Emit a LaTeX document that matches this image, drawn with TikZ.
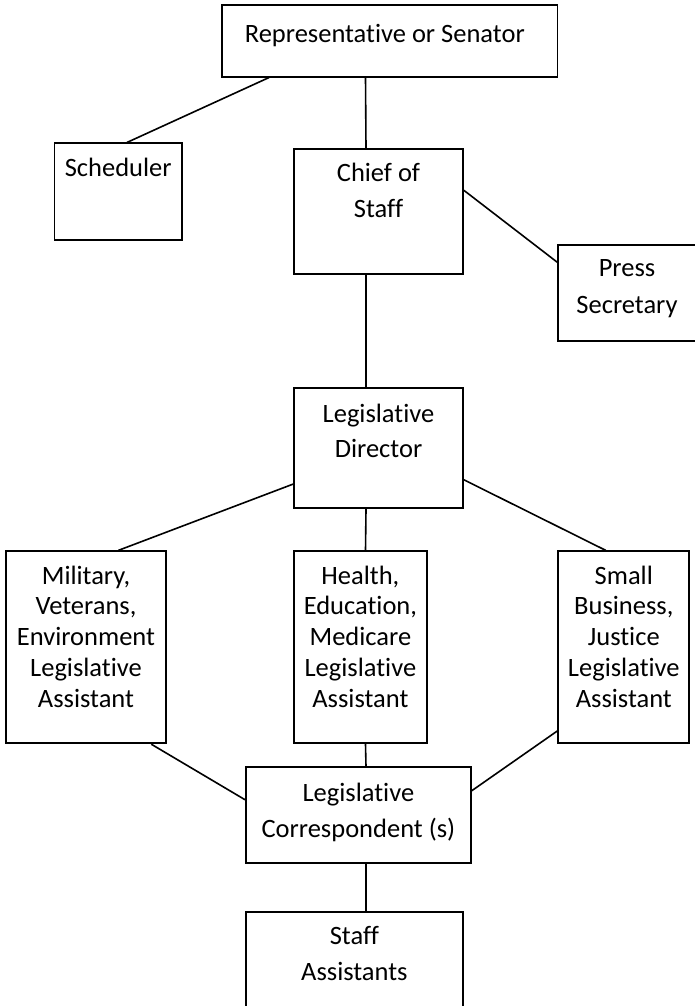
\documentclass[tikz,border=0pt]{standalone}
\usepackage{fontspec}
\setmainfont{Carlito}[Ligatures={NoCommon}]
\newcommand\bxt[5]{\parbox[c][#2][t]{#1}{\centering\fontsize{26.5pt}{#4}\selectfont\rule{0pt}{#3}#5\par}}
\begin{document}
\begin{tikzpicture}[x=1pt,y=-1pt,
  box/.style={draw, line width=1.8pt, inner sep=0pt},
  link/.style={line width=1.6pt}]
\useasboundingbox (0,0) rectangle (695,1006);
\node[box] (rep) at (389.8,40.8) {\bxt{335.5pt}{71.7pt}{38pt}{30pt}{Representative or Senator\hspace*{10pt}}};
\node[box] (sched) at (118.2,191.7) {\bxt{127.6pt}{96.7pt}{33.4pt}{30pt}{Scheduler}};
\node[box] (chief) at (378.5,211.4) {\bxt{169pt}{125.3pt}{33pt}{35.3pt}{Chief of\\Staff}};
\node[box] (press) at (627,292.8) {\bxt{137.4pt}{96.3pt}{32pt}{37pt}{Press\\Secretary}};
\node[box] (ld) at (378.5,448.3) {\bxt{169pt}{120pt}{34.4pt}{34.6pt}{Legislative\\Director}};
\node[box] (mil) at (86,647.3) {\bxt{160pt}{192pt}{32.7pt}{30.8pt}{Military,\\Veterans,\\Environment\\Legislative\\Assistant}};
\node[box] (health) at (360.4,647.3) {\bxt{132.7pt}{192pt}{32.7pt}{30.8pt}{Health,\\Education,\\Medicare\\Legislative\\Assistant}};
\node[box] (small) at (623.8,647.3) {\bxt{131pt}{192pt}{32.7pt}{30.8pt}{Small\\Business,\\Justice\\Legislative\\Assistant}};
\node[box] (lc) at (358.4,815.3) {\bxt{224.7pt}{96pt}{34.4pt}{35.6pt}{Legislative\\Correspondent (s)}};
\node[box] (staff) at (354.4,962) {\bxt{216.7pt}{100pt}{32pt}{36pt}{Staff\\Assistants}};
% connectors
\draw[link] ([xshift=-120.8pt]rep.south) -- ([xshift=8.8pt]sched.north);
\draw[link] ([xshift=-24.3pt]rep.south) -- ([xshift=-12.5pt]chief.north);
\draw[link] ([yshift=-42.5pt]chief.north east) -- ([yshift=-18.6pt]press.north west);
\draw[link] ([xshift=-12.5pt]chief.south) -- ([xshift=-12.5pt]ld.north);
\draw[link] ([yshift=-96.7pt]ld.north west) -- ([xshift=32.3pt]mil.north);
\draw[link] ([xshift=-12.5pt]ld.south) -- ([xshift=5.1pt]health.north);
\draw[link] ([yshift=-92.4pt]ld.north east) -- ([xshift=-18pt]small.north);
\draw[link] ([xshift=-15.6pt]mil.south east) -- ([yshift=-33.4pt]lc.north west);
\draw[link] ([xshift=5.1pt]health.south) -- ([xshift=7.6pt]lc.north);
\draw[link] ([yshift=13.3pt]small.south west) -- ([yshift=-24.4pt]lc.north east);
\draw[link] ([xshift=7.6pt]lc.south) -- ([xshift=11.6pt]staff.north);
\end{tikzpicture}
\end{document}
